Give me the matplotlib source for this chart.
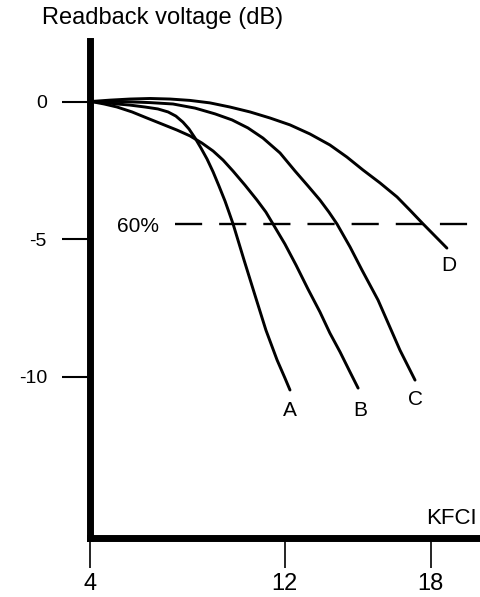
import matplotlib
matplotlib.use("Agg")
import matplotlib.pyplot as plt

# ---- data ----
a_x = [4.04, 4.62, 5.11, 5.64, 6.26, 6.79, 7.21, 7.53, 7.82, 8.07, 8.32, 8.56, 8.81, 9.06,
       9.30, 9.55, 9.71, 9.88, 10.33, 10.78, 11.23, 11.69, 12.01, 12.22]
a_y = [0.00, -0.04, -0.09, -0.13, -0.20, -0.27, -0.38, -0.53, -0.75, -1.00, -1.33, -1.69, -2.09, -2.56,
       -3.07, -3.62, -4.02, -4.45, -5.76, -7.04, -8.31, -9.40, -10.05, -10.49]

b_x = [4.04, 4.58, 5.11, 5.73, 6.34, 6.96, 7.58, 8.11, 8.60, 9.06, 9.47, 9.88, 10.37, 10.86,
       11.23, 11.52, 12.01, 12.47, 12.96, 13.45, 13.86, 14.28, 14.69, 15.02]
b_y = [0.00, -0.09, -0.20, -0.38, -0.60, -0.82, -1.04, -1.25, -1.51, -1.80, -2.13, -2.53, -3.04, -3.58,
       -4.02, -4.45, -5.18, -5.95, -6.82, -7.65, -8.42, -9.11, -9.84, -10.42]

c_x = [4.04, 5.23, 6.47, 7.41, 8.32, 9.14, 9.84, 10.49, 11.11, 11.81, 12.43, 12.96, 13.45, 13.82,
       14.15, 14.69, 15.18, 15.84, 16.29, 16.74, 17.07, 17.36]
c_y = [0.00, 0.00, -0.04, -0.09, -0.24, -0.45, -0.67, -0.96, -1.33, -1.87, -2.53, -3.07, -3.58, -4.02,
       -4.45, -5.29, -6.13, -7.22, -8.13, -9.04, -9.62, -10.13]

d_x = [4.04, 4.82, 5.64, 6.47, 7.29, 8.11, 8.93, 9.75, 10.58, 11.40, 12.22, 13.04, 13.86, 14.56,
       15.22, 15.92, 16.62, 17.15, 17.69, 18.18, 18.67]
d_y = [0.00, 0.05, 0.09, 0.11, 0.09, 0.04, -0.05, -0.20, -0.38, -0.60, -0.85, -1.18, -1.58, -2.02,
       -2.49, -2.96, -3.47, -3.95, -4.45, -4.89, -5.33]

curve_names = ["A", "B", "C", "D"]
label_pos_x = [12.22, 15.10, 17.36, 18.76]
label_pos_y = [-11.22, -11.22, -10.85, -5.98]

level_60 = -4.45
level_60_start = 7.49

x_ticks = [4, 12, 18]
x_tick_labels = ["4", "12", "18"]
y_ticks = [0, -5, -10]
y_tick_labels = ["0", "-5", "-10"]

plt.rcParams['font.family'] = ['Liberation Sans', 'DejaVu Sans']

fig = plt.figure(figsize=(4.8, 5.97), dpi=100)
ax = fig.add_axes([90/480, 59/597, 390/480, 497/597])
ax.set_xlim(4, 20.03)
ax.set_ylim(-15.87, 2.2)

lw = 2.1
for xs, ys in [(a_x, a_y), (b_x, b_y), (c_x, c_y), (d_x, d_y)]:
    ax.plot(xs, ys, color="black", lw=lw, solid_capstyle="round", solid_joinstyle="round", clip_on=False)

ax.plot([level_60_start, 20.03], [level_60, level_60], color="black", lw=1.7,
        linestyle=(0, (11.5, 7.2)), clip_on=False)
ax.text(5.97, level_60 - 0.1, "60%", fontsize=15, ha="center", va="center")

for name, lx, ly in zip(curve_names, label_pos_x, label_pos_y):
    ax.text(lx, ly, name, fontsize=15, ha="center", va="center")

ax.text(19.9, -15.15, "KFCI", fontsize=16, ha="right", va="center")

for side in ["top", "right"]:
    ax.spines[side].set_visible(False)
for side in ["left", "bottom"]:
    ax.spines[side].set_linewidth(5)
    ax.spines[side].set_capstyle("projecting")

ax.set_xticks(x_ticks)
ax.set_xticklabels(x_tick_labels, fontsize=17)
ax.set_yticks(y_ticks)
ax.set_yticklabels(y_tick_labels, fontsize=14)
ax.tick_params(axis="x", direction="out", length=21.5, width=1.2, pad=4)
ax.tick_params(axis="y", direction="out", length=20, width=1.5, pad=11)

fig.text(42/480, 1 - 18/597, "Readback voltage (dB)", fontsize=17, ha="left", va="center")

fig.savefig("out.png", dpi=100)
